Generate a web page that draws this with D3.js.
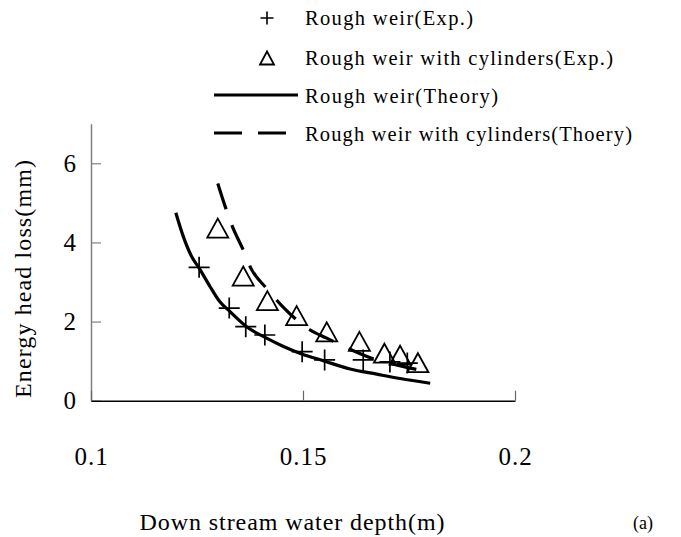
<!DOCTYPE html>
<html>
<head>
<meta charset="utf-8">
<script src="https://cdn.jsdelivr.net/npm/d3@7"></script>
<style>
  html, body { margin: 0; padding: 0; background: #fff; }
  svg { display: block; }
  text { font-family: "Liberation Serif", "Times New Roman", serif; fill: #000; }
</style>
</head>
<body>
<svg id="chart" width="681" height="537"></svg>
<script>
// Rough weir, experimental points: [depth (m), head loss (mm)]
const roughExp = [
  [0.1255, 3.37], [0.1326, 2.34], [0.1365, 1.87], [0.1410, 1.66],
  [0.1498, 1.24], [0.1551, 1.03], [0.1642, 1.03], [0.1705, 0.98], [0.1746, 0.95]
];
// Rough weir with cylinders, experimental points
const cylExp = [
  [0.1299, 4.36], [0.1359, 3.15], [0.1416, 2.53], [0.1485, 2.15],
  [0.1556, 1.74], [0.1633, 1.50], [0.1692, 1.20], [0.1729, 1.15], [0.1771, 0.96]
];
// Rough weir, theoretical curve
const roughTheory = [
  [0.1200, 4.75], [0.1218, 4.14], [0.1238, 3.63], [0.1255, 3.35], [0.1281, 2.88],
  [0.1304, 2.50], [0.1328, 2.25], [0.1367, 1.87], [0.1414, 1.58], [0.1454, 1.37],
  [0.1497, 1.18], [0.1548, 1.01], [0.1611, 0.80], [0.1674, 0.67], [0.1729, 0.56],
  [0.1800, 0.44]
];
// Rough weir with cylinders, theoretical curve
const cylTheory = [
  [0.1299, 5.49], [0.1318, 4.86], [0.1332, 4.44], [0.1359, 3.81], [0.1377, 3.35],
  [0.1414, 2.84], [0.1452, 2.38], [0.1515, 1.80], [0.1556, 1.58], [0.1615, 1.28],
  [0.1662, 1.07], [0.1730, 0.88], [0.1796, 0.73]
];
const xTicks = [0.1, 0.15, 0.2];
const yTicks = [0, 2, 4, 6];
const legendLabels = [
  "Rough weir(Exp.)",
  "Rough weir with cylinders(Exp.)",
  "Rough weir(Theory)",
  "Rough weir with cylinders(Thoery)"
];
// set widths of the legend labels (px)
const legendWidths = [168, 308, 193, 327];

const svg = d3.select("#chart");

const x = d3.scaleLinear().domain([0.1, 0.2]).range([91, 515]);
const y = d3.scaleLinear().domain([0, 7]).range([400.7, 123.7]);

// y axis: grey spine with inward ticks
const yAxis = svg.append("g")
  .attr("transform", `translate(${x(0.1)},0)`)
  .call(d3.axisLeft(y).tickValues(yTicks).tickSizeInner(-10).tickSizeOuter(0).tickPadding(15)
    .tickFormat(d3.format("d")));
yAxis.select(".domain").attr("stroke", "#808080").attr("stroke-width", 1.5);
yAxis.selectAll(".tick line").attr("stroke", "#808080").attr("stroke-width", 1.2);
yAxis.selectAll(".tick text").attr("font-size", 25).attr("font-family", "Liberation Serif");

// x axis: black spine with upward ticks, labels set well below
const xAxis = svg.append("g")
  .attr("transform", `translate(0,${y(0)})`)
  .call(d3.axisBottom(x).tickValues(xTicks).tickSizeInner(-10).tickSizeOuter(0).tickPadding(47)
    .tickFormat(d => String(d)));
xAxis.select(".domain").attr("stroke", "#000").attr("stroke-width", 1.5);
xAxis.selectAll(".tick line").attr("stroke", "#666").attr("stroke-width", 1.2);
xAxis.selectAll(".tick text").attr("font-size", 25).attr("font-family", "Liberation Serif")
  .attr("letter-spacing", 1);

// axis titles
svg.append("text")
  .attr("x", 292).attr("y", 530)
  .attr("text-anchor", "middle").attr("font-size", 24)
  .attr("textLength", 305).attr("lengthAdjust", "spacing")
  .text("Down stream water depth(m)");
svg.append("text")
  .attr("transform", `translate(31,279) rotate(-90)`)
  .attr("text-anchor", "middle").attr("font-size", 24)
  .attr("textLength", 238).attr("lengthAdjust", "spacing")
  .text("Energy head loss(mm)");
svg.append("text")
  .attr("x", 643).attr("y", 529)
  .attr("text-anchor", "middle").attr("font-size", 18)
  .text("(a)");

// theory curves
const line = d3.line().x(d => x(d[0])).y(d => y(d[1])).curve(d3.curveMonotoneX);
svg.append("path").datum(roughTheory)
  .attr("d", line).attr("fill", "none").attr("stroke", "#000").attr("stroke-width", 3.2);
svg.append("path").datum(cylTheory)
  .attr("d", line).attr("fill", "none").attr("stroke", "#000").attr("stroke-width", 3.2)
  .attr("stroke-dasharray", "27,17");

// marker shapes
const crossPath = s => `M${-s},0H${s}M0,${-s}V${s}`;
const triPath = (w, h) => `M0,${-h}L${w},${h}L${-w},${h}Z`;

svg.append("g").selectAll("path").data(roughExp).join("path")
  .attr("transform", d => `translate(${x(d[0])},${y(d[1])})`)
  .attr("d", crossPath(10.5)).attr("stroke", "#000").attr("stroke-width", 1.7).attr("fill", "none");

svg.append("g").selectAll("path").data(cylExp).join("path")
  .attr("transform", d => `translate(${x(d[0])},${y(d[1])})`)
  .attr("d", triPath(10.5, 9.5)).attr("stroke", "#000").attr("stroke-width", 1.8).attr("fill", "none");

// legend
const legend = svg.append("g");
const baselines = [25, 65, 103, 141];
legend.append("path").attr("transform", `translate(267,18)`)
  .attr("d", crossPath(6.5)).attr("stroke", "#000").attr("stroke-width", 1.6);
legend.append("path").attr("transform", `translate(267,58)`)
  .attr("d", triPath(7, 6.5)).attr("stroke", "#000").attr("stroke-width", 1.8).attr("fill", "none");
legend.append("line").attr("x1", 214).attr("x2", 298).attr("y1", 95).attr("y2", 95)
  .attr("stroke", "#000").attr("stroke-width", 3.2);
legend.append("line").attr("x1", 214).attr("x2", 288).attr("y1", 133).attr("y2", 133)
  .attr("stroke", "#000").attr("stroke-width", 3.2).attr("stroke-dasharray", "28,16");
legend.selectAll("text").data(legendLabels).join("text")
  .attr("x", 305).attr("y", (d, i) => baselines[i])
  .attr("font-size", 20.5)
  .attr("textLength", (d, i) => legendWidths[i]).attr("lengthAdjust", "spacing")
  .text(d => d);
</script>
</body>
</html>
